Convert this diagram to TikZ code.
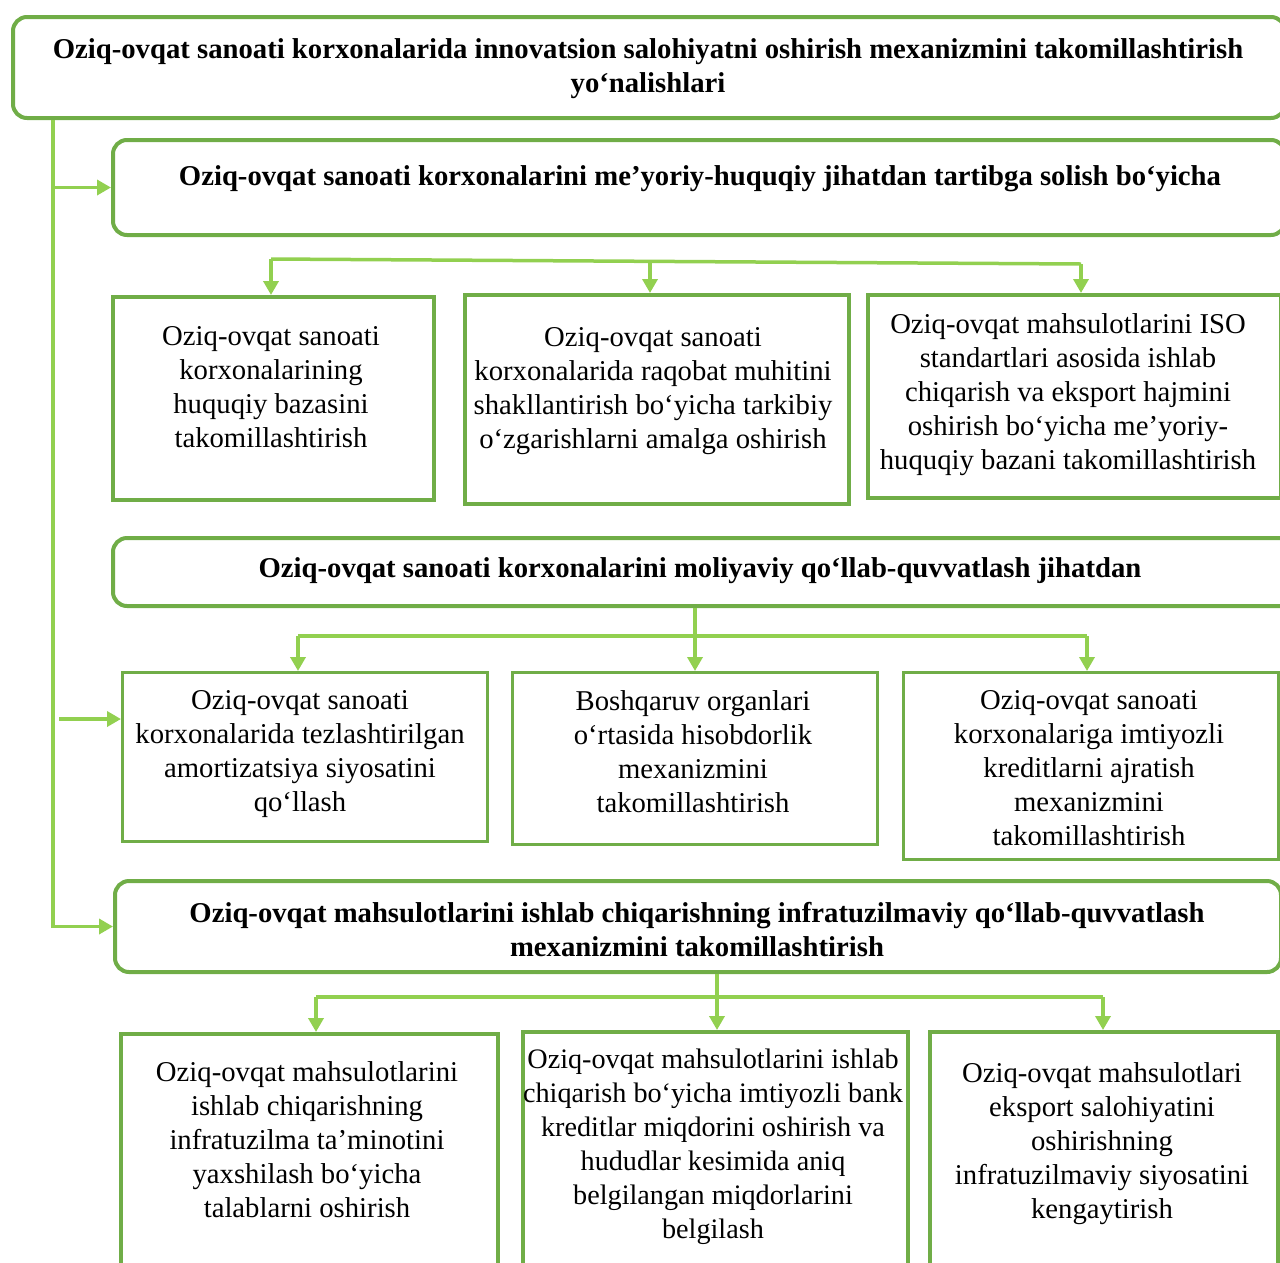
\documentclass[tikz,border=0pt]{standalone}
\usepackage{fontspec}
\setmainfont{Liberation Serif}
\usetikzlibrary{arrows.meta}
\definecolor{boxgreen}{HTML}{70AD47}
\definecolor{linkgreen}{HTML}{92D050}

\begin{document}
\begin{tikzpicture}[x=1pt, y=-1pt, >={Triangle[length=14pt,width=15pt]},
		frame/.style={draw=boxgreen, line width=4pt, anchor=north west, inner sep=0pt},
		roundframe/.style={frame, rounded corners=14pt},
		txt/.style={anchor=north, align=center, inner sep=0pt, font=\fontsize{28.7}{34}\selectfont},
		head/.style={txt, font=\fontsize{28.7}{34}\selectfont\bfseries},
		link/.style={draw=linkgreen, line width=3.5pt}]
		\clip (0,0) rectangle (1280,1262);
		
		% main goal and the three directions
		\node[roundframe, minimum width=1272pt, minimum height=101pt] (goal) at (11,15) {};
		\node[head] (goalt) at (648,38) {Oziq-ovqat sanoati korxonalarida innovatsion salohiyatni oshirish mexanizmini takomillashtirish\\yo‘nalishlari};
		\node[roundframe, minimum width=1172pt, minimum height=95pt] (dirA) at (111,138) {};
		\node[head] (dirAt) at (700,165) {Oziq-ovqat sanoati korxonalarini me’yoriy-huquqiy jihatdan tartibga solish bo‘yicha};
		\node[roundframe, minimum width=1184pt, minimum height=68pt] (dirB) at (111,536) {};
		\node[head] (dirBt) at (700,557) {Oziq-ovqat sanoati korxonalarini moliyaviy qo‘llab-quvvatlash jihatdan};
		\node[roundframe, minimum width=1166pt, minimum height=91pt] (dirC) at (113,879) {};
		\node[head] (dirCt) at (697,902) {Oziq-ovqat mahsulotlarini ishlab chiqarishning infratuzilmaviy qo‘llab-quvvatlash\\mexanizmini takomillashtirish};
		
		% first row
		\node[frame, minimum width=321pt, minimum height=203pt] (a1) at (111,295) {};
		\node[txt] (a1t) at (271,326) {Oziq-ovqat sanoati\\korxonalarining\\huquqiy bazasini\\takomillashtirish};
		\node[frame, minimum width=384pt, minimum height=209pt] (a2) at (463,293) {};
		\node[txt] (a2t) at (653,327) {Oziq-ovqat sanoati\\korxonalarida raqobat muhitini\\shakllantirish bo‘yicha tarkibiy\\o‘zgarishlarni amalga oshirish};
		\node[frame, minimum width=413pt, minimum height=203pt] (a3) at (866,293) {};
		\node[txt] (a3t) at (1068,313) {Oziq-ovqat mahsulotlarini ISO\\standartlari asosida ishlab\\chiqarish va eksport hajmini\\oshirish bo‘yicha me’yoriy-\\huquqiy bazani takomillashtirish};
		
		% second row
		\node[frame, line width=3pt, minimum width=365pt, minimum height=169pt] (b1) at (121,671) {};
		\node[txt] (b1t) at (300,690) {Oziq-ovqat sanoati\\korxonalarida tezlashtirilgan\\amortizatsiya siyosatini\\qo‘llash};
		\node[frame, line width=3pt, minimum width=365pt, minimum height=172pt] (b2) at (511,671) {};
		\node[txt] (b2t) at (693,690) {Boshqaruv organlari\\o‘rtasida hisobdorlik\\mexanizmini\\takomillashtirish};
		\node[frame, line width=3pt, minimum width=375pt, minimum height=187pt] (b3) at (902,671) {};
		\node[txt] (b3t) at (1089,690) {Oziq-ovqat sanoati\\korxonalariga imtiyozli\\kreditlarni ajratish\\mexanizmini\\takomillashtirish};
		
		% third row
		\node[frame, minimum width=377pt, minimum height=260pt] (c1) at (119,1032) {};
		\node[txt] (c1t) at (307,1061) {Oziq-ovqat mahsulotlarini\\ishlab chiqarishning\\infratuzilma ta’minotini\\yaxshilash bo‘yicha\\talablarni oshirish};
		\node[frame, minimum width=385pt, minimum height=260pt] (c2) at (521,1030) {};
		\node[txt, font=\fontsize{28.2}{34}\selectfont] (c2t) at (713,1049) {Oziq-ovqat mahsulotlarini ishlab\\chiqarish bo‘yicha imtiyozli bank\\kreditlar miqdorini oshirish va\\hududlar kesimida aniq\\belgilangan miqdorlarini\\belgilash};
		\node[frame, minimum width=348pt, minimum height=260pt] (c3) at (928,1030) {};
		\node[txt] (c3t) at (1102,1062) {Oziq-ovqat mahsulotlari\\eksport salohiyatini\\oshirishning\\infratuzilmaviy siyosatini\\kengaytirish};
		
		% trunk on the left
		\coordinate (trunk) at (53,0);
		\coordinate (armB) at (59,719);
		\draw[link, ->] (trunk |- goal.south) -- (trunk |- dirC.west) -- (dirC.west);
		\draw[link, ->] (trunk |- dirA.west) -- (dirA.west);
		\draw[link, ->] (armB) -- (armB -| b1.west);
		
		% buses
		\coordinate (busA1) at (271,259);
		\coordinate (busA2) at (650,262);
		\coordinate (busA3) at (1081,264);
		\draw[link] (busA1) -- (busA3);
		\draw[link, ->] (busA1) -- (busA1 |- a1.north);
		\draw[link, ->] (busA2) -- (busA2 |- a2.north);
		\draw[link, ->] (busA3) -- (busA3 |- a3.north);
		
		\coordinate (busB1) at (298,636);
		\coordinate (busB2) at (695,636);
		\coordinate (busB3) at (1087,636);
		\draw[link] (busB1) -- (busB3);
		\draw[link, ->] (busB2 |- dirB.south) -- (busB2 |- b2.north);
		\draw[link, ->] (busB1) -- (busB1 |- b1.north);
		\draw[link, ->] (busB3) -- (busB3 |- b3.north);
		
		\coordinate (busC1) at (316,997);
		\coordinate (busC2) at (717,997);
		\coordinate (busC3) at (1103,997);
		\draw[link] (busC1) -- (busC3);
		\draw[link, ->] (busC2 |- dirC.south) -- (busC2 |- c2.north);
		\draw[link, ->] (busC1) -- (busC1 |- c1.north);
		\draw[link, ->] (busC3) -- (busC3 |- c3.north);
	\end{tikzpicture}
\end{document}
